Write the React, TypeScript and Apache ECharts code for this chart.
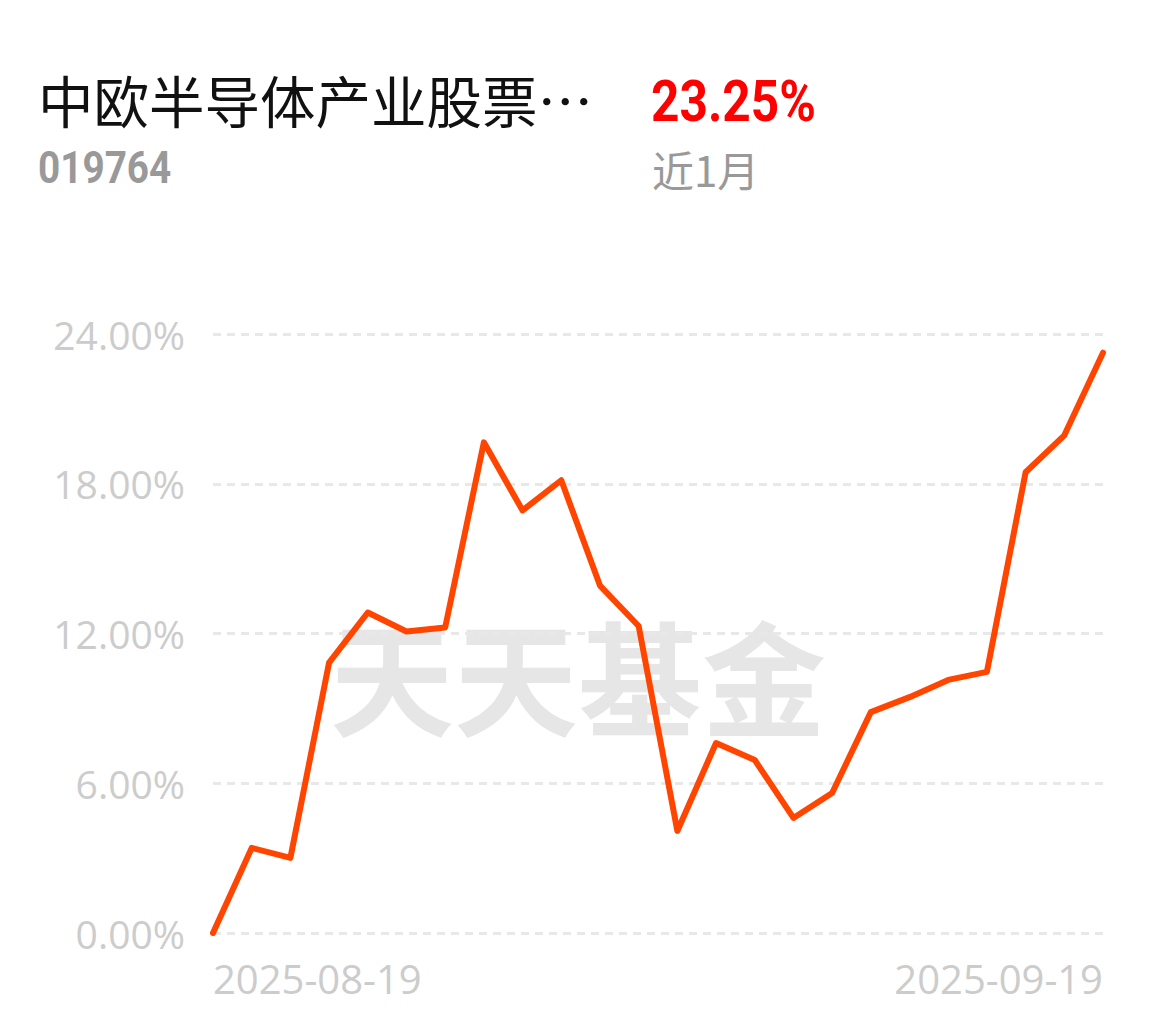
import React, { useEffect, useRef } from "react";
import * as echarts from "echarts";

const dates = [
  "2025-08-19", "2025-08-20", "2025-08-21", "2025-08-22", "2025-08-25", "2025-08-26",
  "2025-08-27", "2025-08-28", "2025-08-29", "2025-09-01", "2025-09-02", "2025-09-03",
  "2025-09-04", "2025-09-05", "2025-09-08", "2025-09-09", "2025-09-10", "2025-09-11",
  "2025-09-12", "2025-09-15", "2025-09-16", "2025-09-17", "2025-09-18", "2025-09-19",
];
const returns = [
  0, 3.41, 3.01, 10.83, 12.84, 12.08, 12.24, 19.66, 16.93, 18.14, 13.92, 12.3,
  4.09, 7.61, 6.93, 4.61, 5.61, 8.85, 9.45, 10.14, 10.46, 18.46, 19.94, 23.25,
];
const yTicks = { min: 0, max: 24, interval: 6 };
const fundName = "中欧半导体产业股票…";
const fundCode = "019764";
const periodReturn = "23.25%";
const periodLabel = "近1月";
const watermark = "天天基金";

export default function App() {
  const ref = useRef<HTMLDivElement>(null);
  useEffect(() => {
    if (!ref.current) return;
    const chart = echarts.init(ref.current, null, { renderer: "svg" });
    const last = dates.length - 1;
    chart.setOption({
      animation: false,
      backgroundColor: "#ffffff",
      grid: { left: 213, right: 52, top: 334, bottom: 89, containLabel: false },
      graphic: [
        {
          type: "text", x: 578, y: 673, z: -1, silent: true,
          style: {
            text: watermark, fill: "#e6e6e6", fontSize: 124, fontWeight: 700,
            fontFamily: "Noto Sans CJK SC", align: "center", verticalAlign: "middle",
          },
        },
        {
          type: "text", x: 38, y: 99,
          style: {
            text: fundName, fill: "#111111", fontSize: 55.5, fontWeight: 400,
            fontFamily: "Noto Sans CJK SC", align: "left", verticalAlign: "middle",
          },
        },
        {
          type: "text", x: 38, y: 168, scaleX: 0.88,
          style: {
            text: fundCode, fill: "#999999", fontSize: 44, fontWeight: 700,
            fontFamily: "Roboto", align: "left", verticalAlign: "middle",
          },
        },
        {
          type: "text", x: 651, y: 101, scaleX: 0.87,
          style: {
            text: periodReturn, fill: "#ff0000", fontSize: 57, fontWeight: 700,
            fontFamily: "Roboto", align: "left", verticalAlign: "middle",
          },
        },
        {
          type: "text", x: 652, y: 168,
          style: {
            text: periodLabel, fill: "#999999", fontSize: 42, fontWeight: 400,
            fontFamily: "Noto Sans CJK SC", align: "left", verticalAlign: "middle",
          },
        },
      ],
      xAxis: {
        type: "category",
        data: dates,
        boundaryGap: false,
        axisLine: { show: false },
        axisTick: { show: false },
        splitLine: { show: false },
        axisLabel: {
          interval: (i: number) => i === 0 || i === last,
          color: "#cccccc",
          fontSize: 40,
          fontWeight: 400,
          fontFamily: "Open Sans",
          margin: 25,
          alignMinLabel: "left",
          alignMaxLabel: "right",
        },
      },
      yAxis: {
        type: "value",
        min: yTicks.min,
        max: yTicks.max,
        interval: yTicks.interval,
        axisLine: { show: false },
        axisTick: { show: false },
        axisLabel: {
          formatter: (v: number) => v.toFixed(2) + "%",
          color: "#cccccc",
          fontSize: 39,
          fontWeight: 400,
          fontFamily: "Open Sans",
          margin: 28,
        },
        splitLine: { lineStyle: { color: "#e8e8e8", width: 3, type: [8, 6] } },
      },
      series: [
        {
          type: "line",
          data: returns,
          symbol: "none",
          lineStyle: { color: "#ff4500", width: 6, cap: "round", join: "round" },
          z: 3,
        },
      ],
    });
    return () => chart.dispose();
  }, []);
  return (
    <div
      ref={ref}
      style={{ position: "absolute", left: 0, top: 0, width: 1155, height: 1022 }}
    />
  );
}
